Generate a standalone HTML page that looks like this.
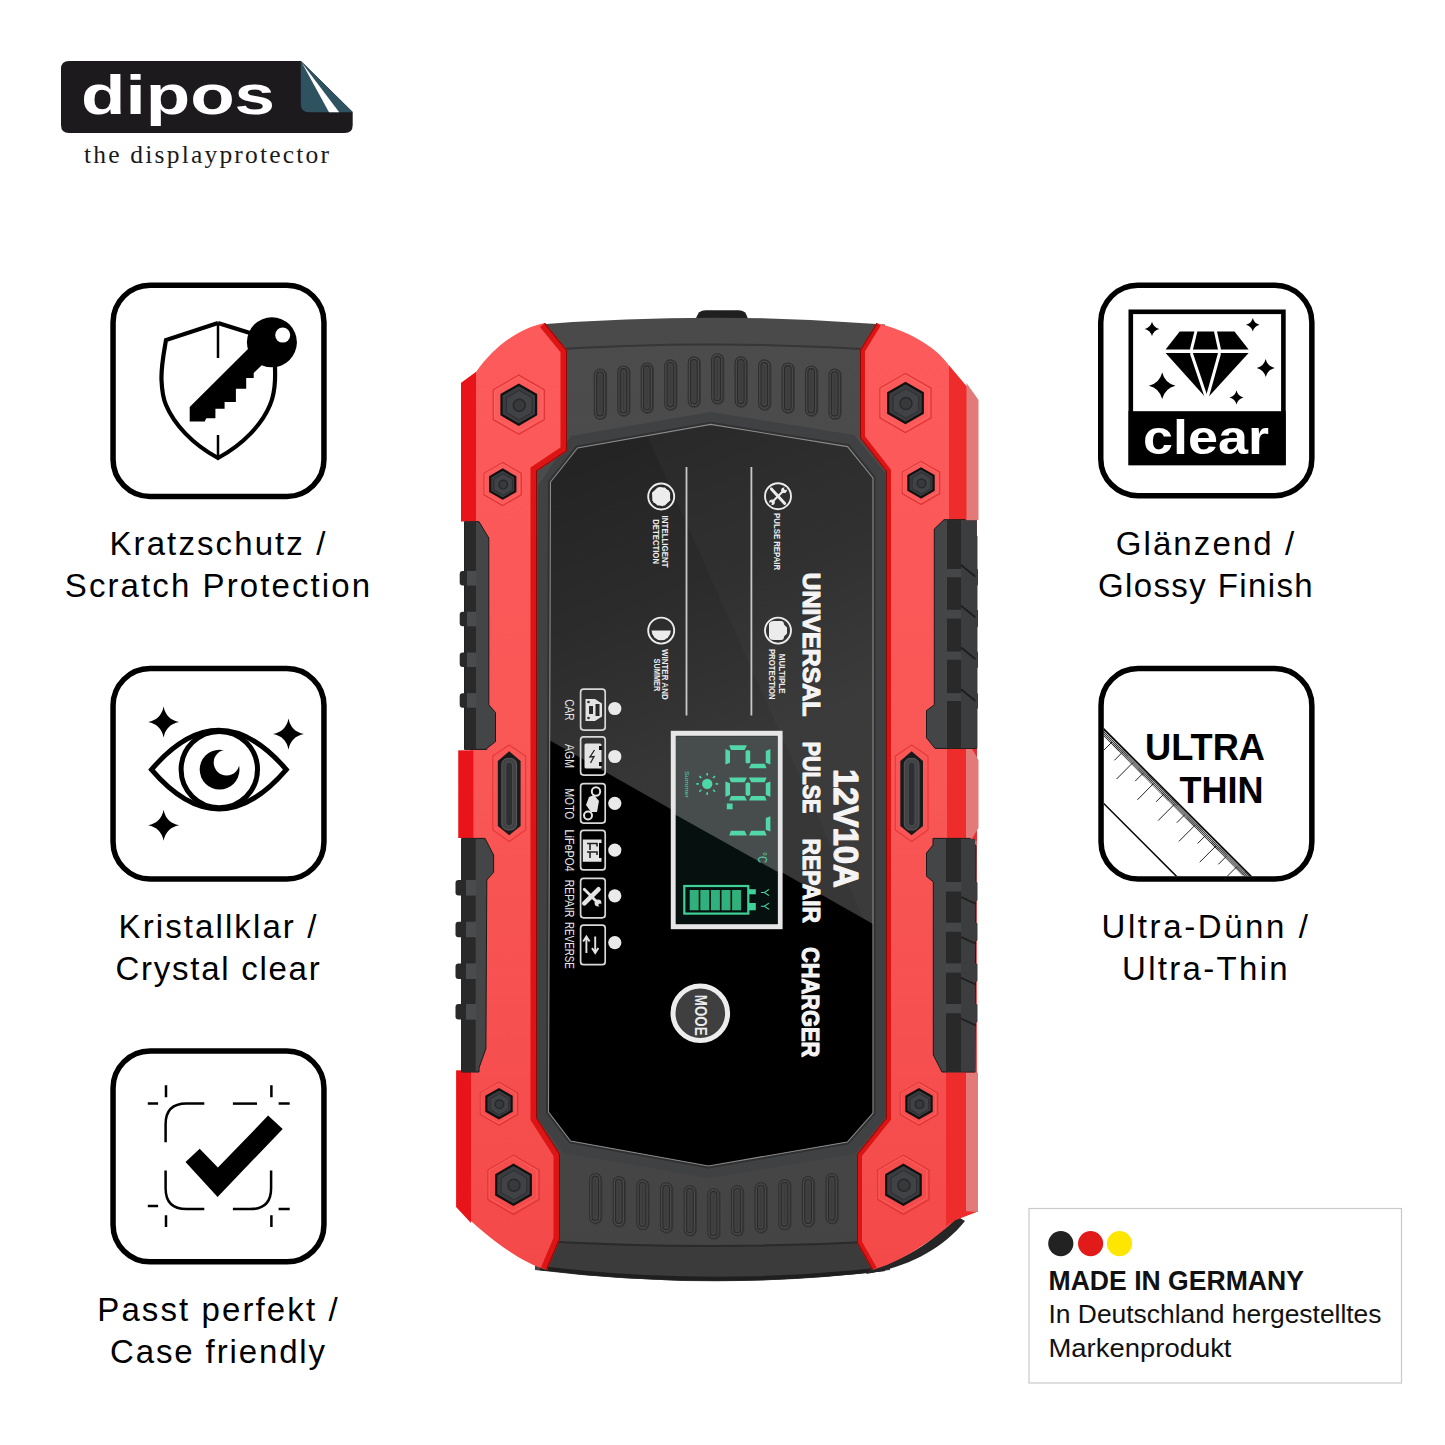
<!DOCTYPE html>
<html>
<head>
<meta charset="utf-8">
<style>
html,body{margin:0;padding:0;background:#fff;}
body{width:1445px;height:1445px;position:relative;overflow:hidden;font-family:"Liberation Sans",sans-serif;}
.lbl{position:absolute;font-family:"Liberation Sans",sans-serif;font-size:33px;letter-spacing:2.1px;color:#000;white-space:nowrap;text-align:center;line-height:42.5px;width:400px;}
svg{position:absolute;left:0;top:0;}
</style>
</head>
<body>
<svg width="1445" height="1445" viewBox="0 0 1445 1445">
<!-- LOGO -->
<g id="logo">
  <path d="M69,61 L301,61 L352.7,112 L352.7,125 Q352.7,133 344.7,133 L69,133 Q61,133 61,125 L61,69 Q61,61 69,61 Z" fill="#1c1a1d"/>
  <path d="M300.8,61 L352.7,112.2 L309,112.2 Q300.8,112.2 300.8,104 Z" fill="#2f5260"/>
  <path d="M302,63 L339.2,112.2 L329,112.2 Z" fill="#ffffff"/>
  <text x="0" y="0" transform="translate(81,113.5) scale(1.30,1)" font-family="Liberation Sans" font-weight="bold" font-size="56" fill="#fff" letter-spacing="0">dipos</text>
  <text x="84" y="163" font-family="Liberation Serif" font-size="25.5" fill="#1a1a1a" letter-spacing="2.2">the displayprotector</text>
</g>

<!-- ICON BOXES -->
<g fill="none" stroke="#000" stroke-width="5.5">
  <rect x="113.05" y="285.25" width="210.9" height="211.2" rx="37"/>
  <rect x="113.05" y="668.55" width="210.9" height="210.4" rx="37"/>
  <rect x="113.05" y="1051.05" width="210.9" height="210.8" rx="37"/>
  <rect x="1100.75" y="285.25" width="211.1" height="210.4" rx="37"/>
  <rect x="1101.05" y="668.55" width="210.8" height="210.4" rx="37"/>
</g>
<!-- icon1 shield key -->
<g>
  <path d="M218,323 L166,340 C164,352 161,366 161.5,380 C162,392 163,398 166,405 C174,424 192,444 218,458 C244,444 262,424 270,405 C273,398 274.5,392 275,380 C275.5,366 274,352 272.5,345" fill="none" stroke="#000" stroke-width="4.2" stroke-linejoin="miter"/>
  <path d="M218,323 L250,333" fill="none" stroke="#000" stroke-width="4.2"/>
  <line x1="218" y1="323" x2="218" y2="358" stroke="#000" stroke-width="2.5"/>
  <line x1="218" y1="435" x2="218" y2="458" stroke="#000" stroke-width="2.5"/>
  <circle cx="271.9" cy="342.3" r="25" fill="#000"/>
  <path d="M249,348 L189.7,407 L189.7,421.5 L204.7,421.5 L206.3,418.3 L215.4,418.3 L215.4,408.7 L224.6,408.7 L224.6,402 L235.9,402 L235.9,388.8 L246.2,388.8 L246.2,378 L253.7,378 L253.7,373 L262,365 Z" fill="#000"/>
  <circle cx="282.7" cy="335.1" r="7.5" fill="#fff"/>
</g>
<!-- icon2 eye -->
<g>
  <path d="M151.5,769.6 Q218.8,691 286.3,769.6 Q218.8,848.2 151.5,769.6 Z" fill="none" stroke="#000" stroke-width="5" stroke-linejoin="miter"/>
  <circle cx="219.3" cy="769.6" r="38.2" fill="none" stroke="#000" stroke-width="5"/>
  <circle cx="219.6" cy="769.6" r="19.9" fill="#000"/>
  <circle cx="226.6" cy="762.6" r="12.9" fill="#fff"/>
  <path id="spk" d="M0,-15.5 Q2.5,-2.5 15.5,0 Q2.5,2.5 0,15.5 Q-2.5,2.5 -15.5,0 Q-2.5,-2.5 0,-15.5 Z" fill="#000" transform="translate(163.6,721.9)"/>
  <path d="M0,-15.5 Q2.5,-2.5 15.5,0 Q2.5,2.5 0,15.5 Q-2.5,2.5 -15.5,0 Q-2.5,-2.5 0,-15.5 Z" fill="#000" transform="translate(288.5,733.9)"/>
  <path d="M0,-15.5 Q2.5,-2.5 15.5,0 Q2.5,2.5 0,15.5 Q-2.5,2.5 -15.5,0 Q-2.5,-2.5 0,-15.5 Z" fill="#000" transform="translate(163.6,825.3)"/>
</g>
<!-- icon3 check -->
<g>
  <path d="M199.7,1148.8 L185.5,1162.1 L217.6,1197 L282.7,1128.9 L268.1,1115.6 L217.9,1167.6 Z" fill="#000"/>
  <g fill="none" stroke="#000" stroke-width="2.5">
    <path d="M204.3,1103.6 L186.4,1103.6 Q165.6,1103.6 165.6,1124.4 L165.6,1142.2"/>
    <path d="M232.9,1103.6 L257,1103.6"/>
    <path d="M165.6,1170.4 L165.6,1188.3 Q165.6,1209.1 186.4,1209.1 L204.3,1209.1"/>
    <path d="M232.9,1209.1 L250.3,1209.1 Q271.1,1209.1 271.1,1188.3 L271.1,1170.4"/>
    <path d="M166,1085.2 L166,1097.3 M147.8,1103.6 L158.1,1103.6 M271.4,1085.2 L271.4,1097.3 M278.6,1103.6 L289.7,1103.6"/>
    <path d="M147.8,1206.1 L158.1,1206.1 M166,1215.2 L166,1226.9 M278.6,1208.9 L289.7,1208.9 M271.4,1215.2 L271.4,1226.9"/>
  </g>
</g>
<!-- icon4 diamond clear -->
<g>
  <rect x="1130.8" y="311.8" width="152.6" height="151.1" fill="none" stroke="#000" stroke-width="4.6"/>
  <rect x="1128.5" y="411.2" width="157.2" height="54" fill="#000"/>
  <path d="M1179.7,331.5 L1234.5,331.5 L1248.6,349.4 L1165.6,349.4 Z" fill="#000"/>
  <path d="M1165.6,353 L1248.6,353 L1206.8,398.7 Z" fill="#000"/>
  <g stroke="#fff" stroke-width="3">
    <line x1="1196" y1="331" x2="1191.3" y2="350"/>
    <line x1="1215.4" y1="331" x2="1219.6" y2="350"/>
    <line x1="1191.3" y1="353" x2="1206.8" y2="399"/>
    <line x1="1219.6" y1="353" x2="1206.8" y2="399"/>
  </g>
  <g fill="#000">
    <path d="M0,-1 Q0.2,-0.2 1,0 Q0.2,0.2 0,1 Q-0.2,0.2 -1,0 Q-0.2,-0.2 0,-1 Z" transform="translate(1152,329) scale(7.3)"/>
    <path d="M0,-1 Q0.2,-0.2 1,0 Q0.2,0.2 0,1 Q-0.2,0.2 -1,0 Q-0.2,-0.2 0,-1 Z" transform="translate(1252.8,324.8) scale(6.8)"/>
    <path d="M0,-1 Q0.2,-0.2 1,0 Q0.2,0.2 0,1 Q-0.2,0.2 -1,0 Q-0.2,-0.2 0,-1 Z" transform="translate(1265.7,368) scale(9)"/>
    <path d="M0,-1 Q0.2,-0.2 1,0 Q0.2,0.2 0,1 Q-0.2,0.2 -1,0 Q-0.2,-0.2 0,-1 Z" transform="translate(1162.2,385.8) scale(13.3)"/>
    <path d="M0,-1 Q0.2,-0.2 1,0 Q0.2,0.2 0,1 Q-0.2,0.2 -1,0 Q-0.2,-0.2 0,-1 Z" transform="translate(1236.5,397.4) scale(7)"/>
  </g>
  <text x="1143" y="453.5" font-family="Liberation Sans" font-weight="bold" font-size="49" fill="#fff" textLength="126" lengthAdjust="spacingAndGlyphs">clear</text>
</g>
<!-- icon5 ultra thin -->
<g>
  <defs><clipPath id="c5"><rect x="1103.8" y="671.3" width="205.3" height="204.9" rx="34"/></clipPath></defs>
  <g clip-path="url(#c5)">
<line x1="1080" y1="705.1" x2="1260" y2="885.1" stroke="#000" stroke-width="1.5"/>
<line x1="1080" y1="779.8" x2="1200" y2="899.8" stroke="#000" stroke-width="1.5"/>
<line x1="1077.95" y1="707.15" x2="1257.95" y2="887.15" stroke="#111" stroke-width="5.2" stroke-dasharray="0.8 0.6"/>
<line x1="1080.9" y1="710.8" x2="1072.9" y2="718.8" stroke="#222" stroke-width="1"/>
<line x1="1091.2" y1="721.2" x2="1075.0" y2="737.4" stroke="#222" stroke-width="1"/>
<line x1="1101.6" y1="731.6" x2="1093.7" y2="739.5" stroke="#222" stroke-width="1"/>
<line x1="1112.0" y1="742.0" x2="1095.8" y2="758.2" stroke="#222" stroke-width="1"/>
<line x1="1122.4" y1="752.3" x2="1114.4" y2="760.3" stroke="#222" stroke-width="1"/>
<line x1="1132.8" y1="762.7" x2="1116.6" y2="779.0" stroke="#222" stroke-width="1"/>
<line x1="1143.2" y1="773.1" x2="1135.2" y2="781.1" stroke="#222" stroke-width="1"/>
<line x1="1153.6" y1="783.5" x2="1137.4" y2="799.8" stroke="#222" stroke-width="1"/>
<line x1="1164.0" y1="793.9" x2="1156.0" y2="801.9" stroke="#222" stroke-width="1"/>
<line x1="1174.4" y1="804.3" x2="1158.1" y2="820.6" stroke="#222" stroke-width="1"/>
<line x1="1184.8" y1="814.7" x2="1176.8" y2="822.7" stroke="#222" stroke-width="1"/>
<line x1="1195.2" y1="825.1" x2="1178.9" y2="841.4" stroke="#222" stroke-width="1"/>
<line x1="1205.6" y1="835.5" x2="1197.6" y2="843.5" stroke="#222" stroke-width="1"/>
<line x1="1216.0" y1="845.9" x2="1199.7" y2="862.2" stroke="#222" stroke-width="1"/>
<line x1="1226.4" y1="856.3" x2="1218.4" y2="864.3" stroke="#222" stroke-width="1"/>
<line x1="1236.8" y1="866.7" x2="1220.5" y2="883.0" stroke="#222" stroke-width="1"/>
<line x1="1247.2" y1="877.1" x2="1239.2" y2="885.1" stroke="#222" stroke-width="1"/>
<line x1="1257.6" y1="887.5" x2="1241.3" y2="903.7" stroke="#222" stroke-width="1"/>
  </g>
  <text x="1145" y="759.7" font-family="Liberation Sans" font-weight="bold" font-size="36" fill="#000" textLength="120" lengthAdjust="spacingAndGlyphs">ULTRA</text>
  <text x="1179.5" y="802.8" font-family="Liberation Sans" font-weight="bold" font-size="36" fill="#000" textLength="84" lengthAdjust="spacingAndGlyphs">THIN</text>
</g>
<!-- Made in Germany -->
<g>
  <rect x="1029" y="1208.5" width="372.5" height="174.5" fill="#fff" stroke="#c8c8c8" stroke-width="1.2"/>
  <circle cx="1060.8" cy="1243.6" r="12.6" fill="#222"/>
  <circle cx="1090.6" cy="1243.6" r="12.6" fill="#e31a1a"/>
  <circle cx="1119.5" cy="1243.6" r="12.6" fill="#ffe600"/>
  <text x="1048.5" y="1289.5" font-family="Liberation Sans" font-weight="bold" font-size="27" fill="#111" textLength="255.5" lengthAdjust="spacingAndGlyphs">MADE IN GERMANY</text>
  <text x="1048.5" y="1323.2" font-family="Liberation Sans" font-size="26.3" fill="#111" textLength="333" lengthAdjust="spacingAndGlyphs">In Deutschland hergestelltes</text>
  <text x="1048.5" y="1357" font-family="Liberation Sans" font-size="26.3" fill="#111" textLength="183" lengthAdjust="spacingAndGlyphs">Markenprodukt</text>
</g>
<g id="charger">
<defs>
  <linearGradient id="bodyg" x1="0" y1="0" x2="0" y2="1">
    <stop offset="0" stop-color="#4c4c4d"/><stop offset="1" stop-color="#444445"/>
  </linearGradient>
  <linearGradient id="scrg" gradientUnits="userSpaceOnUse" x1="640" y1="440" x2="760" y2="740">
    <stop offset="0" stop-color="#242424"/><stop offset="0.5" stop-color="#2c2c2c"/><stop offset="1" stop-color="#373737"/>
  </linearGradient>
  <clipPath id="scr"><polygon points="550.5,482 577.5,448 710.7,424.4 847.6,446.6 873,478 873,1113 847.4,1142 708.5,1166 570.6,1141 548.5,1112"/></clipPath>
  <clipPath id="lcdc"><rect x="675.9" y="736.6" width="101.7" height="187.4"/></clipPath>
</defs>
<path d="M694,322 L698,314 Q700,310.3 706,310.3 L738,310.3 Q744,310.3 746,314 L749.4,322 Z" fill="#1f1f20"/>
<path d="M535,328 Q712,310 890,328 L890,1270 Q712,1292 535,1270 Z" fill="url(#bodyg)"/>
<path d="M540,324.4 Q712,311 885,324.4 L885,350.3 Q712,338.5 540,350.3 Z" fill="#4a4a4b"/>
<path d="M540,350.3 Q712,338.5 885,350.3" fill="none" stroke="#363637" stroke-width="2"/>
<path d="M540,1241 Q712,1251 885,1241 L885,1271 Q712,1292 540,1270 Z" fill="#3b3b3c"/>
<path d="M540,1241 Q712,1251 885,1241" fill="none" stroke="#2a2a2a" stroke-width="2"/>
<path d="M540,1268 Q712,1289 885,1269" fill="none" stroke="#1f1f1f" stroke-width="4"/>
<rect x="594.9" y="369.7" width="11.4" height="49.6" rx="5.7" fill="none" stroke="#333334" stroke-width="1.6" opacity="0.7"/>
<rect x="594.3" y="369.1" width="11.4" height="49.6" rx="5.7" fill="#4a4a4b" stroke="#303031" stroke-width="1.1"/>
<rect x="596.7" y="371.7" width="6.6" height="44.4" rx="3.3" fill="#414142" stroke="#2a2a2b" stroke-width="1.1"/>
<line x1="600.0" y1="375.1" x2="600.0" y2="412.7" stroke="#3a3a3b" stroke-width="1"/>
<rect x="618.4" y="366.6" width="11.4" height="49.6" rx="5.7" fill="none" stroke="#333334" stroke-width="1.6" opacity="0.7"/>
<rect x="617.8" y="366.0" width="11.4" height="49.6" rx="5.7" fill="#4a4a4b" stroke="#303031" stroke-width="1.1"/>
<rect x="620.2" y="368.6" width="6.6" height="44.4" rx="3.3" fill="#414142" stroke="#2a2a2b" stroke-width="1.1"/>
<line x1="623.5" y1="372.0" x2="623.5" y2="409.6" stroke="#3a3a3b" stroke-width="1"/>
<rect x="641.8" y="363.6" width="11.4" height="49.6" rx="5.7" fill="none" stroke="#333334" stroke-width="1.6" opacity="0.7"/>
<rect x="641.2" y="363.0" width="11.4" height="49.6" rx="5.7" fill="#4a4a4b" stroke="#303031" stroke-width="1.1"/>
<rect x="643.6" y="365.6" width="6.6" height="44.4" rx="3.3" fill="#414142" stroke="#2a2a2b" stroke-width="1.1"/>
<line x1="646.9" y1="369.0" x2="646.9" y2="406.6" stroke="#3a3a3b" stroke-width="1"/>
<rect x="665.3" y="360.5" width="11.4" height="49.6" rx="5.7" fill="none" stroke="#333334" stroke-width="1.6" opacity="0.7"/>
<rect x="664.7" y="359.9" width="11.4" height="49.6" rx="5.7" fill="#4a4a4b" stroke="#303031" stroke-width="1.1"/>
<rect x="667.1" y="362.5" width="6.6" height="44.4" rx="3.3" fill="#414142" stroke="#2a2a2b" stroke-width="1.1"/>
<line x1="670.4" y1="365.9" x2="670.4" y2="403.5" stroke="#3a3a3b" stroke-width="1"/>
<rect x="688.8" y="357.5" width="11.4" height="49.6" rx="5.7" fill="none" stroke="#333334" stroke-width="1.6" opacity="0.7"/>
<rect x="688.2" y="356.9" width="11.4" height="49.6" rx="5.7" fill="#4a4a4b" stroke="#303031" stroke-width="1.1"/>
<rect x="690.6" y="359.5" width="6.6" height="44.4" rx="3.3" fill="#414142" stroke="#2a2a2b" stroke-width="1.1"/>
<line x1="693.9" y1="362.9" x2="693.9" y2="400.5" stroke="#3a3a3b" stroke-width="1"/>
<rect x="712.2" y="354.4" width="11.4" height="49.6" rx="5.7" fill="none" stroke="#333334" stroke-width="1.6" opacity="0.7"/>
<rect x="711.6" y="353.8" width="11.4" height="49.6" rx="5.7" fill="#4a4a4b" stroke="#303031" stroke-width="1.1"/>
<rect x="714.0" y="356.4" width="6.6" height="44.4" rx="3.3" fill="#414142" stroke="#2a2a2b" stroke-width="1.1"/>
<line x1="717.4" y1="359.8" x2="717.4" y2="397.4" stroke="#3a3a3b" stroke-width="1"/>
<rect x="735.7" y="357.5" width="11.4" height="49.6" rx="5.7" fill="none" stroke="#333334" stroke-width="1.6" opacity="0.7"/>
<rect x="735.1" y="356.9" width="11.4" height="49.6" rx="5.7" fill="#4a4a4b" stroke="#303031" stroke-width="1.1"/>
<rect x="737.5" y="359.5" width="6.6" height="44.4" rx="3.3" fill="#414142" stroke="#2a2a2b" stroke-width="1.1"/>
<line x1="740.8" y1="362.9" x2="740.8" y2="400.5" stroke="#3a3a3b" stroke-width="1"/>
<rect x="759.2" y="360.5" width="11.4" height="49.6" rx="5.7" fill="none" stroke="#333334" stroke-width="1.6" opacity="0.7"/>
<rect x="758.6" y="359.9" width="11.4" height="49.6" rx="5.7" fill="#4a4a4b" stroke="#303031" stroke-width="1.1"/>
<rect x="761.0" y="362.5" width="6.6" height="44.4" rx="3.3" fill="#414142" stroke="#2a2a2b" stroke-width="1.1"/>
<line x1="764.3" y1="365.9" x2="764.3" y2="403.5" stroke="#3a3a3b" stroke-width="1"/>
<rect x="782.7" y="363.6" width="11.4" height="49.6" rx="5.7" fill="none" stroke="#333334" stroke-width="1.6" opacity="0.7"/>
<rect x="782.1" y="363.0" width="11.4" height="49.6" rx="5.7" fill="#4a4a4b" stroke="#303031" stroke-width="1.1"/>
<rect x="784.5" y="365.6" width="6.6" height="44.4" rx="3.3" fill="#414142" stroke="#2a2a2b" stroke-width="1.1"/>
<line x1="787.8" y1="369.0" x2="787.8" y2="406.6" stroke="#3a3a3b" stroke-width="1"/>
<rect x="806.1" y="366.6" width="11.4" height="49.6" rx="5.7" fill="none" stroke="#333334" stroke-width="1.6" opacity="0.7"/>
<rect x="805.5" y="366.0" width="11.4" height="49.6" rx="5.7" fill="#4a4a4b" stroke="#303031" stroke-width="1.1"/>
<rect x="807.9" y="368.6" width="6.6" height="44.4" rx="3.3" fill="#414142" stroke="#2a2a2b" stroke-width="1.1"/>
<line x1="811.2" y1="372.0" x2="811.2" y2="409.6" stroke="#3a3a3b" stroke-width="1"/>
<rect x="829.6" y="369.7" width="11.4" height="49.6" rx="5.7" fill="none" stroke="#333334" stroke-width="1.6" opacity="0.7"/>
<rect x="829.0" y="369.1" width="11.4" height="49.6" rx="5.7" fill="#4a4a4b" stroke="#303031" stroke-width="1.1"/>
<rect x="831.4" y="371.7" width="6.6" height="44.4" rx="3.3" fill="#414142" stroke="#2a2a2b" stroke-width="1.1"/>
<line x1="834.7" y1="375.1" x2="834.7" y2="412.7" stroke="#3a3a3b" stroke-width="1"/>
<rect x="590.2" y="1174.1" width="11.4" height="49.6" rx="5.7" fill="none" stroke="#333334" stroke-width="1.6" opacity="0.7"/>
<rect x="589.6" y="1173.5" width="11.4" height="49.6" rx="5.7" fill="#4a4a4b" stroke="#303031" stroke-width="1.1"/>
<rect x="592.0" y="1176.1" width="6.6" height="44.4" rx="3.3" fill="#414142" stroke="#2a2a2b" stroke-width="1.1"/>
<line x1="595.3" y1="1179.5" x2="595.3" y2="1217.1" stroke="#3a3a3b" stroke-width="1"/>
<rect x="613.8" y="1177.2" width="11.4" height="49.6" rx="5.7" fill="none" stroke="#333334" stroke-width="1.6" opacity="0.7"/>
<rect x="613.2" y="1176.6" width="11.4" height="49.6" rx="5.7" fill="#4a4a4b" stroke="#303031" stroke-width="1.1"/>
<rect x="615.6" y="1179.2" width="6.6" height="44.4" rx="3.3" fill="#414142" stroke="#2a2a2b" stroke-width="1.1"/>
<line x1="618.9" y1="1182.6" x2="618.9" y2="1220.2" stroke="#3a3a3b" stroke-width="1"/>
<rect x="637.5" y="1180.2" width="11.4" height="49.6" rx="5.7" fill="none" stroke="#333334" stroke-width="1.6" opacity="0.7"/>
<rect x="636.9" y="1179.6" width="11.4" height="49.6" rx="5.7" fill="#4a4a4b" stroke="#303031" stroke-width="1.1"/>
<rect x="639.3" y="1182.2" width="6.6" height="44.4" rx="3.3" fill="#414142" stroke="#2a2a2b" stroke-width="1.1"/>
<line x1="642.6" y1="1185.6" x2="642.6" y2="1223.2" stroke="#3a3a3b" stroke-width="1"/>
<rect x="661.1" y="1183.3" width="11.4" height="49.6" rx="5.7" fill="none" stroke="#333334" stroke-width="1.6" opacity="0.7"/>
<rect x="660.5" y="1182.7" width="11.4" height="49.6" rx="5.7" fill="#4a4a4b" stroke="#303031" stroke-width="1.1"/>
<rect x="662.9" y="1185.3" width="6.6" height="44.4" rx="3.3" fill="#414142" stroke="#2a2a2b" stroke-width="1.1"/>
<line x1="666.2" y1="1188.7" x2="666.2" y2="1226.3" stroke="#3a3a3b" stroke-width="1"/>
<rect x="684.8" y="1186.3" width="11.4" height="49.6" rx="5.7" fill="none" stroke="#333334" stroke-width="1.6" opacity="0.7"/>
<rect x="684.2" y="1185.7" width="11.4" height="49.6" rx="5.7" fill="#4a4a4b" stroke="#303031" stroke-width="1.1"/>
<rect x="686.6" y="1188.3" width="6.6" height="44.4" rx="3.3" fill="#414142" stroke="#2a2a2b" stroke-width="1.1"/>
<line x1="689.9" y1="1191.7" x2="689.9" y2="1229.3" stroke="#3a3a3b" stroke-width="1"/>
<rect x="708.4" y="1189.4" width="11.4" height="49.6" rx="5.7" fill="none" stroke="#333334" stroke-width="1.6" opacity="0.7"/>
<rect x="707.8" y="1188.8" width="11.4" height="49.6" rx="5.7" fill="#4a4a4b" stroke="#303031" stroke-width="1.1"/>
<rect x="710.2" y="1191.4" width="6.6" height="44.4" rx="3.3" fill="#414142" stroke="#2a2a2b" stroke-width="1.1"/>
<line x1="713.5" y1="1194.8" x2="713.5" y2="1232.4" stroke="#3a3a3b" stroke-width="1"/>
<rect x="732.1" y="1186.3" width="11.4" height="49.6" rx="5.7" fill="none" stroke="#333334" stroke-width="1.6" opacity="0.7"/>
<rect x="731.5" y="1185.7" width="11.4" height="49.6" rx="5.7" fill="#4a4a4b" stroke="#303031" stroke-width="1.1"/>
<rect x="733.9" y="1188.3" width="6.6" height="44.4" rx="3.3" fill="#414142" stroke="#2a2a2b" stroke-width="1.1"/>
<line x1="737.2" y1="1191.7" x2="737.2" y2="1229.3" stroke="#3a3a3b" stroke-width="1"/>
<rect x="755.7" y="1183.3" width="11.4" height="49.6" rx="5.7" fill="none" stroke="#333334" stroke-width="1.6" opacity="0.7"/>
<rect x="755.1" y="1182.7" width="11.4" height="49.6" rx="5.7" fill="#4a4a4b" stroke="#303031" stroke-width="1.1"/>
<rect x="757.5" y="1185.3" width="6.6" height="44.4" rx="3.3" fill="#414142" stroke="#2a2a2b" stroke-width="1.1"/>
<line x1="760.8" y1="1188.7" x2="760.8" y2="1226.3" stroke="#3a3a3b" stroke-width="1"/>
<rect x="779.4" y="1180.2" width="11.4" height="49.6" rx="5.7" fill="none" stroke="#333334" stroke-width="1.6" opacity="0.7"/>
<rect x="778.8" y="1179.6" width="11.4" height="49.6" rx="5.7" fill="#4a4a4b" stroke="#303031" stroke-width="1.1"/>
<rect x="781.2" y="1182.2" width="6.6" height="44.4" rx="3.3" fill="#414142" stroke="#2a2a2b" stroke-width="1.1"/>
<line x1="784.5" y1="1185.6" x2="784.5" y2="1223.2" stroke="#3a3a3b" stroke-width="1"/>
<rect x="803.0" y="1177.2" width="11.4" height="49.6" rx="5.7" fill="none" stroke="#333334" stroke-width="1.6" opacity="0.7"/>
<rect x="802.4" y="1176.6" width="11.4" height="49.6" rx="5.7" fill="#4a4a4b" stroke="#303031" stroke-width="1.1"/>
<rect x="804.8" y="1179.2" width="6.6" height="44.4" rx="3.3" fill="#414142" stroke="#2a2a2b" stroke-width="1.1"/>
<line x1="808.1" y1="1182.6" x2="808.1" y2="1220.2" stroke="#3a3a3b" stroke-width="1"/>
<rect x="826.7" y="1174.1" width="11.4" height="49.6" rx="5.7" fill="none" stroke="#333334" stroke-width="1.6" opacity="0.7"/>
<rect x="826.1" y="1173.5" width="11.4" height="49.6" rx="5.7" fill="#4a4a4b" stroke="#303031" stroke-width="1.1"/>
<rect x="828.5" y="1176.1" width="6.6" height="44.4" rx="3.3" fill="#414142" stroke="#2a2a2b" stroke-width="1.1"/>
<line x1="831.8" y1="1179.5" x2="831.8" y2="1217.1" stroke="#3a3a3b" stroke-width="1"/>
<polygon points="538,486 571,436 710.7,412 854,435 886,474 886,1117 854,1154 708.5,1178 564,1153 536,1116" fill="#404143"/>
<polygon points="550.5,482 577.5,448 710.7,424.4 847.6,446.6 873,478 873,1113 847.4,1142 708.5,1166 570.6,1141 548.5,1112" fill="#242424" stroke="#313131" stroke-width="5"/>
<g clip-path="url(#scr)">
<rect x="540" y="410" width="345" height="770" fill="url(#scrg)"/>
<polygon points="640,420 900,420 900,1000" fill="#ffffff" opacity="0.025"/>
<polygon points="540,734.8 890,933.6 890,1180 540,1180" fill="#000"/>
</g>
<polygon points="550.5,482 577.5,448 710.7,424.4 847.6,446.6 873,478 873,1113 847.4,1142 708.5,1166 570.6,1141 548.5,1112" fill="none" stroke="#8a8a8a" stroke-width="1.1"/>
</g><path d="M866,1274 C905,1268 942,1250 965,1221 L955,1215 C935,1243 900,1262 870,1268 Z" fill="#262627"/>
<defs><linearGradient id="redg" gradientUnits="userSpaceOnUse" x1="0" y1="320" x2="0" y2="1275"><stop offset="0" stop-color="#fd5b5b"/><stop offset="0.5" stop-color="#f95656"/><stop offset="1" stop-color="#f44949"/></linearGradient></defs>
<defs><clipPath id="redL"><path d="M545,323 L567,350 L567,451 L537,471 L537,1118 L560,1154 L560,1239 L547,1270 C520,1262 490,1240 456,1207 L456,1070.6 L470,1070.6 L470,838 L458.3,838 L458.3,750.6 L470,750.6 L470,521.7 L461,521.7 L461,383 L476,372 C495,345 520,328 545,323 Z"/></clipPath></defs>
<path d="M545,323 L567,350 L567,451 L537,471 L537,1118 L560,1154 L560,1239 L547,1270 C520,1262 490,1240 456,1207 L456,1070.6 L470,1070.6 L470,838 L458.3,838 L458.3,750.6 L470,750.6 L470,521.7 L461,521.7 L461,383 L476,372 C495,345 520,328 545,323 Z" fill="url(#redg)"/>
<path d="M545,323 L567,350 L567,451 L537,471 L537,1118 L560,1154 L560,1239 L547,1270" fill="none" stroke="#dc1414" stroke-width="13" clip-path="url(#redL)"/>
<path d="M545,323 L567,350 L567,451 L537,471 L537,1118 L560,1154 L560,1239 L547,1270" fill="none" stroke="#8a0808" stroke-width="2" clip-path="url(#redL)"/>
<path d="M476,372 L461,383 L461,521 L476,521 Z" fill="#e8141a"/>
<path d="M458.5,750.6 L473.4,750.6 L473.4,838 L458.5,838 Z" fill="#e8141a"/>
<path d="M456.4,1070.6 L471,1070.6 L471,1223 C466,1218 461,1212 456.4,1207 Z" fill="#e8141a"/>
<defs><clipPath id="redR"><path d="M876.5,323 L860,350 L860,438 L886,471.5 L886,1118 L857,1154 L857,1243 L872.3,1270 C900,1262 930,1243 955.3,1220 L977,1211.7 L977,398.8 L949,365.6 C935,345 905,330 876.5,323 Z"/></clipPath></defs>
<path d="M876.5,323 L860,350 L860,438 L886,471.5 L886,1118 L857,1154 L857,1243 L872.3,1270 C900,1262 930,1243 955.3,1220 L977,1211.7 L977,398.8 L949,365.6 C935,345 905,330 876.5,323 Z" fill="url(#redg)"/>
<path d="M876.5,323 L860,350 L860,438 L886,471.5 L886,1118 L857,1154 L857,1243 L872.3,1270" fill="none" stroke="#dc1414" stroke-width="10" clip-path="url(#redR)"/>
<path d="M876.5,323 L860,350 L860,438 L886,471.5 L886,1118 L857,1154 L857,1243 L872.3,1270" fill="none" stroke="#8a0808" stroke-width="2" clip-path="url(#redR)"/>
<path d="M949,365.6 L977,398.8 L977,520 L949,520 Z" fill="#ee2c2c"/>
<path d="M947,749 L977,749 L977,841 L947,841 Z" fill="#ee2c2c"/>
<path d="M946,1072.7 L977,1072.7 L977,1211.7 L955.3,1220 L946,1226 Z" fill="#ee2c2c"/>
<path d="M966,1072.7 L978,1072.7 L978,1212 L966,1211.3 Z" fill="#e27a7a"/>
<path d="M966.5,383 L978.5,400 L978.5,520 L966.5,520 Z" fill="#e27a7a"/>
<path d="M966,749 L972,749 L978.5,760 L978.5,828 L972,838.5 L966,838.5 Z" fill="#e27a7a"/><polygon points="464.5,521.7 479,521.7 488.8,538 488.8,704.8 495.5,712.6 495.5,741.6 486.8,748.4 486.8,749.4 464.5,749.4" fill="#444546" stroke="#1a1a1a" stroke-width="1"/>
<rect x="464.5" y="522.2" width="11.5" height="226.7" fill="#29292a"/>
<rect x="459.7" y="571" width="10" height="14.6" rx="3" fill="#29292a"/>
<rect x="467" y="571" width="9.5" height="14.6" fill="#4a4b4c"/>
<rect x="459.7" y="611.8" width="10" height="14.5" rx="3" fill="#29292a"/>
<rect x="467" y="611.8" width="9.5" height="14.5" fill="#4a4b4c"/>
<rect x="459.7" y="652.5" width="10" height="14.5" rx="3" fill="#29292a"/>
<rect x="467" y="652.5" width="9.5" height="14.5" fill="#4a4b4c"/>
<rect x="459.7" y="693.2" width="10" height="14.5" rx="3" fill="#29292a"/>
<rect x="467" y="693.2" width="9.5" height="14.5" fill="#4a4b4c"/>
<polygon points="461.6,838.4 485,838.4 493.6,855 493.6,872.3 486.8,880 485.9,1048.7 479,1068 479,1072 461.6,1072" fill="#444546" stroke="#1a1a1a" stroke-width="1"/>
<rect x="461.6" y="838.9" width="14" height="232.6" fill="#29292a"/>
<rect x="455.5" y="880" width="12" height="15.6" rx="3" fill="#29292a"/>
<rect x="466" y="880" width="10" height="15.6" fill="#4a4b4c"/>
<rect x="455.5" y="921.7" width="12" height="15.5" rx="3" fill="#29292a"/>
<rect x="466" y="921.7" width="10" height="15.5" fill="#4a4b4c"/>
<rect x="455.5" y="963.4" width="12" height="15.6" rx="3" fill="#29292a"/>
<rect x="466" y="963.4" width="10" height="15.6" fill="#4a4b4c"/>
<rect x="455.5" y="1004" width="12" height="15.6" rx="3" fill="#29292a"/>
<rect x="466" y="1004" width="10" height="15.6" fill="#4a4b4c"/>
<polygon points="944,519.7 965.3,519.7 976.9,536.2 976.9,748.4 935,748.4 926.5,737.8 926.5,710.6 934.3,704.8 934.3,529" fill="#444546" stroke="#1a1a1a" stroke-width="1"/>
<rect x="947" y="520.2" width="14" height="227.7" fill="#29292a"/>
<rect x="961" y="520.2" width="15.9" height="227.7" fill="#3c3d3e"/>
<rect x="947" y="569" width="14" height="8.3" fill="#454647"/>
<line x1="961" y1="565.0" x2="976" y2="577.0" stroke="#1e1e1e" stroke-width="1.8"/>
<rect x="975.5" y="569.0" width="2.5" height="16.6" rx="1" fill="#3c3d3e"/>
<rect x="947" y="609.8" width="14" height="8.8" fill="#454647"/>
<line x1="961" y1="605.8" x2="976" y2="617.8" stroke="#1e1e1e" stroke-width="1.8"/>
<rect x="975.5" y="609.8" width="2.5" height="17.5" rx="1" fill="#3c3d3e"/>
<rect x="947" y="651.5" width="14" height="8.2" fill="#454647"/>
<line x1="961" y1="647.5" x2="976" y2="659.5" stroke="#1e1e1e" stroke-width="1.8"/>
<rect x="975.5" y="651.5" width="2.5" height="16.5" rx="1" fill="#3c3d3e"/>
<rect x="947" y="693.2" width="14" height="7.8" fill="#454647"/>
<line x1="961" y1="689.2" x2="976" y2="701.2" stroke="#1e1e1e" stroke-width="1.8"/>
<rect x="975.5" y="693.2" width="2.5" height="15.5" rx="1" fill="#3c3d3e"/>
<polygon points="933,838.4 970,838.4 976,846 975,1072 942,1072 933.3,1055 933.3,882 926.5,876.2 926.5,853 933,845" fill="#444546" stroke="#1a1a1a" stroke-width="1"/>
<rect x="946" y="838.9" width="15" height="232.6" fill="#29292a"/>
<rect x="961" y="838.9" width="14" height="232.6" fill="#3c3d3e"/>
<rect x="946" y="882" width="15" height="9.5" fill="#454647"/>
<line x1="961" y1="897.0" x2="976" y2="904.0" stroke="#1e1e1e" stroke-width="1.8"/>
<rect x="974.5" y="882.0" width="3" height="19.0" rx="1" fill="#3c3d3e"/>
<rect x="946" y="922.7" width="15" height="9.1" fill="#454647"/>
<line x1="961" y1="937.0" x2="976" y2="944.0" stroke="#1e1e1e" stroke-width="1.8"/>
<rect x="974.5" y="922.7" width="3" height="18.3" rx="1" fill="#3c3d3e"/>
<rect x="946" y="963.4" width="15" height="9.2" fill="#454647"/>
<line x1="961" y1="977.8" x2="976" y2="984.8" stroke="#1e1e1e" stroke-width="1.8"/>
<rect x="974.5" y="963.4" width="3" height="18.4" rx="1" fill="#3c3d3e"/>
<rect x="946" y="1004" width="15" height="9.2" fill="#454647"/>
<line x1="961" y1="1018.5" x2="976" y2="1025.5" stroke="#1e1e1e" stroke-width="1.8"/>
<rect x="974.5" y="1004.0" width="3" height="18.5" rx="1" fill="#3c3d3e"/>
<polygon points="509.2,745 525.6,756 525.6,830 509.2,841.5 492.8,830 492.8,756" fill="url(#redg)" stroke="#e63838" stroke-width="1.1"/>
<polygon points="509.2,751.2 520.6,761 520.6,826 509.2,835.3 497.8,826 497.8,761" fill="#1a1a1a"/>
<rect x="501.8" y="758.4" width="14.8" height="71.6" rx="6" fill="#414244" stroke="#5a5b5e" stroke-width="1"/>
<rect x="505.8" y="762" width="6.8" height="64" rx="3.4" fill="#2e2f31" stroke="#55575a" stroke-width="0.8"/>
<polygon points="911.6,745 928.0,756 928.0,830 911.6,841.5 895.3,830 895.3,756" fill="url(#redg)" stroke="#e63838" stroke-width="1.1"/>
<polygon points="911.6,751.2 923.0,761 923.0,826 911.6,835.3 900.3,826 900.3,761" fill="#1a1a1a"/>
<rect x="904.3" y="758.4" width="14.7" height="71.6" rx="6" fill="#414244" stroke="#5a5b5e" stroke-width="1"/>
<rect x="908.2" y="762" width="6.8" height="64" rx="3.4" fill="#2e2f31" stroke="#55575a" stroke-width="0.8"/><polygon points="518.8,434.3 493.2,419.5 493.2,389.9 518.8,375.1 544.4,389.9 544.4,419.5" fill="url(#redg)" stroke="#e03636" stroke-width="1.3"/>
<polygon points="518.3,431.8 494.4,418.0 494.4,390.4 518.3,376.6 542.2,390.4 542.2,418.0" fill="none" stroke="#ff7070" stroke-width="0.8" opacity="0.7"/>
<polygon points="518.8,424.7 501.5,414.7 501.5,394.7 518.8,384.7 536.1,394.7 536.1,414.7" fill="#3b3c3f" stroke="#111" stroke-width="2.2"/>
<polygon points="519.2,419.9 506.4,412.5 506.4,397.7 519.2,390.3 532.0,397.7 532.0,412.5" fill="#414245" stroke="#2c2d2f" stroke-width="1"/>
<circle cx="519.3" cy="405.2" r="6.0" fill="#38393b" stroke="#27282a" stroke-width="1.4"/>
<polygon points="905.5,432.6 879.9,417.8 879.9,388.2 905.5,373.4 931.1,388.2 931.1,417.8" fill="url(#redg)" stroke="#e03636" stroke-width="1.3"/>
<polygon points="905.0,430.1 881.1,416.3 881.1,388.7 905.0,374.9 928.9,388.7 928.9,416.3" fill="none" stroke="#ff7070" stroke-width="0.8" opacity="0.7"/>
<polygon points="905.5,423.0 888.2,413.0 888.2,393.0 905.5,383.0 922.8,393.0 922.8,413.0" fill="#3b3c3f" stroke="#111" stroke-width="2.2"/>
<polygon points="905.9,418.2 893.1,410.8 893.1,396.0 905.9,388.6 918.7,396.0 918.7,410.8" fill="#414245" stroke="#2c2d2f" stroke-width="1"/>
<circle cx="906.0" cy="403.5" r="6.0" fill="#38393b" stroke="#27282a" stroke-width="1.4"/>
<polygon points="513.5,1214.4 487.9,1199.6 487.9,1170.0 513.5,1155.2 539.1,1170.0 539.1,1199.6" fill="url(#redg)" stroke="#e03636" stroke-width="1.3"/>
<polygon points="513.0,1211.9 489.1,1198.1 489.1,1170.5 513.0,1156.7 536.9,1170.5 536.9,1198.1" fill="none" stroke="#ff7070" stroke-width="0.8" opacity="0.7"/>
<polygon points="513.5,1204.8 496.2,1194.8 496.2,1174.8 513.5,1164.8 530.8,1174.8 530.8,1194.8" fill="#3b3c3f" stroke="#111" stroke-width="2.2"/>
<polygon points="513.9,1200.0 501.1,1192.6 501.1,1177.8 513.9,1170.4 526.7,1177.8 526.7,1192.6" fill="#414245" stroke="#2c2d2f" stroke-width="1"/>
<circle cx="514.0" cy="1185.3" r="6.0" fill="#38393b" stroke="#27282a" stroke-width="1.4"/>
<polygon points="903.4,1214.4 877.8,1199.6 877.8,1170.0 903.4,1155.2 929.0,1170.0 929.0,1199.6" fill="url(#redg)" stroke="#e03636" stroke-width="1.3"/>
<polygon points="902.9,1211.9 879.0,1198.1 879.0,1170.5 902.9,1156.7 926.8,1170.5 926.8,1198.1" fill="none" stroke="#ff7070" stroke-width="0.8" opacity="0.7"/>
<polygon points="903.4,1204.8 886.1,1194.8 886.1,1174.8 903.4,1164.8 920.7,1174.8 920.7,1194.8" fill="#3b3c3f" stroke="#111" stroke-width="2.2"/>
<polygon points="903.8,1200.0 891.0,1192.6 891.0,1177.8 903.8,1170.4 916.6,1177.8 916.6,1192.6" fill="#414245" stroke="#2c2d2f" stroke-width="1"/>
<circle cx="903.9" cy="1185.3" r="6.0" fill="#38393b" stroke="#27282a" stroke-width="1.4"/>
<polygon points="502.7,505.6 484.1,494.8 484.1,473.4 502.7,462.6 521.3,473.4 521.3,494.8" fill="url(#redg)" stroke="#e03636" stroke-width="1.3"/>
<polygon points="502.2,503.6 484.9,493.6 484.9,473.6 502.2,463.6 519.5,473.6 519.5,493.6" fill="none" stroke="#ff7070" stroke-width="0.8" opacity="0.7"/>
<polygon points="502.7,498.6 490.1,491.4 490.1,476.9 502.7,469.6 515.3,476.9 515.3,491.4" fill="#3b3c3f" stroke="#111" stroke-width="2.2"/>
<polygon points="503.1,495.2 493.8,489.9 493.8,479.1 503.1,473.8 512.4,479.1 512.4,489.9" fill="#414245" stroke="#2c2d2f" stroke-width="1"/>
<circle cx="503.2" cy="484.6" r="4.3" fill="#38393b" stroke="#27282a" stroke-width="1.4"/>
<polygon points="921.0,504.4 902.4,493.6 902.4,472.2 921.0,461.4 939.6,472.2 939.6,493.6" fill="url(#redg)" stroke="#e03636" stroke-width="1.3"/>
<polygon points="920.5,502.4 903.2,492.4 903.2,472.4 920.5,462.4 937.8,472.4 937.8,492.4" fill="none" stroke="#ff7070" stroke-width="0.8" opacity="0.7"/>
<polygon points="921.0,497.4 908.4,490.1 908.4,475.6 921.0,468.4 933.6,475.6 933.6,490.1" fill="#3b3c3f" stroke="#111" stroke-width="2.2"/>
<polygon points="921.4,494.0 912.1,488.7 912.1,477.9 921.4,472.6 930.7,477.9 930.7,488.7" fill="#414245" stroke="#2c2d2f" stroke-width="1"/>
<circle cx="921.5" cy="483.4" r="4.3" fill="#38393b" stroke="#27282a" stroke-width="1.4"/>
<polygon points="499.0,1125.3 480.4,1114.5 480.4,1093.1 499.0,1082.3 517.6,1093.1 517.6,1114.5" fill="url(#redg)" stroke="#e03636" stroke-width="1.3"/>
<polygon points="498.5,1123.3 481.2,1113.3 481.2,1093.3 498.5,1083.3 515.8,1093.3 515.8,1113.3" fill="none" stroke="#ff7070" stroke-width="0.8" opacity="0.7"/>
<polygon points="499.0,1118.3 486.4,1111.0 486.4,1096.5 499.0,1089.3 511.6,1096.5 511.6,1111.0" fill="#3b3c3f" stroke="#111" stroke-width="2.2"/>
<polygon points="499.4,1114.9 490.1,1109.6 490.1,1098.8 499.4,1093.5 508.7,1098.8 508.7,1109.6" fill="#414245" stroke="#2c2d2f" stroke-width="1"/>
<circle cx="499.5" cy="1104.3" r="4.3" fill="#38393b" stroke="#27282a" stroke-width="1.4"/>
<polygon points="919.0,1125.3 900.4,1114.5 900.4,1093.1 919.0,1082.3 937.6,1093.1 937.6,1114.5" fill="url(#redg)" stroke="#e03636" stroke-width="1.3"/>
<polygon points="918.5,1123.3 901.2,1113.3 901.2,1093.3 918.5,1083.3 935.8,1093.3 935.8,1113.3" fill="none" stroke="#ff7070" stroke-width="0.8" opacity="0.7"/>
<polygon points="919.0,1118.3 906.4,1111.0 906.4,1096.5 919.0,1089.3 931.6,1096.5 931.6,1111.0" fill="#3b3c3f" stroke="#111" stroke-width="2.2"/>
<polygon points="919.4,1114.9 910.1,1109.6 910.1,1098.8 919.4,1093.5 928.7,1098.8 928.7,1109.6" fill="#414245" stroke="#2c2d2f" stroke-width="1"/>
<circle cx="919.5" cy="1104.3" r="4.3" fill="#38393b" stroke="#27282a" stroke-width="1.4"/><g><line x1="686.5" y1="467" x2="686.5" y2="715.5" stroke="#c8c8c8" stroke-width="1.8"/>
<line x1="751.4" y1="467" x2="751.4" y2="715.5" stroke="#c8c8c8" stroke-width="1.8"/>
<circle cx="661.2" cy="496.5" r="13" fill="none" stroke="#ececec" stroke-width="1.9"/>
<polygon points="670.3,500.3 662.5,506.2 653.4,502.5 652.1,492.7 659.9,486.8 669.0,490.5" fill="#ececec"/>
<polygon points="670.1,500.2 664.9,505.4 657.5,505.4 652.3,500.2 652.3,492.8 657.5,487.6 664.9,487.6 670.1,492.8" fill="#ececec"/>
<circle cx="778" cy="496.2" r="13" fill="none" stroke="#ececec" stroke-width="1.9"/>
<path d="M771.4,488.9 L784.7,503.5" stroke="#ececec" stroke-width="3" stroke-linecap="round"/>
<path d="M783.5,490.7 L772.5,501.7" stroke="#ececec" stroke-width="2.2"/>
<circle cx="784" cy="490.2" r="2.8" fill="#ececec"/><circle cx="772" cy="502.2" r="2.8" fill="#ececec"/>
<circle cx="785.5" cy="488.7" r="1.4" fill="#2d2d2d"/><circle cx="770.5" cy="503.7" r="1.4" fill="#2d2d2d"/>
<circle cx="661.2" cy="630.6" r="13" fill="none" stroke="#ececec" stroke-width="1.9"/>
<path d="M651.6,630.6 A9.6,9.6 0 0 0 670.8000000000001,630.6 Z" fill="#ececec"/>
<circle cx="778" cy="630.6" r="13" fill="none" stroke="#ececec" stroke-width="1.9"/>
<path d="M769,624.6 Q769,621.1 774,621.1 L781,621.1 Q784,621.1 784,624.6 L787,627.6 L787,633.6 L784,636.6 Q784,640.1 781,640.1 L774,640.1 Q769,640.1 769,636.6 Z" fill="#ececec"/>
<text transform="translate(662.4,515.6) rotate(90)" font-family="Liberation Sans" font-weight="bold" font-size="9.2" fill="#ececec" textLength="52" lengthAdjust="spacingAndGlyphs" >INTELLIGENT</text>
<text transform="translate(652.7,519.2) rotate(90)" font-family="Liberation Sans" font-weight="bold" font-size="9.2" fill="#ececec" textLength="44.8" lengthAdjust="spacingAndGlyphs" >DETECTION</text>
<text transform="translate(774.4,513.1) rotate(90)" font-family="Liberation Sans" font-weight="bold" font-size="9.6" fill="#ececec" textLength="57" lengthAdjust="spacingAndGlyphs" >PULSE REPAIR</text>
<text transform="translate(662.3,648.9) rotate(90)" font-family="Liberation Sans" font-weight="bold" font-size="9.2" fill="#ececec" textLength="50.8" lengthAdjust="spacingAndGlyphs" >WINTER AND</text>
<text transform="translate(653.8,658.6) rotate(90)" font-family="Liberation Sans" font-weight="bold" font-size="9.2" fill="#ececec" textLength="32.7" lengthAdjust="spacingAndGlyphs" >SUMMER</text>
<text transform="translate(778.6,653.7) rotate(90)" font-family="Liberation Sans" font-weight="bold" font-size="9.2" fill="#ececec" textLength="40" lengthAdjust="spacingAndGlyphs" >MULTIPLE</text>
<text transform="translate(768.9,648.9) rotate(90)" font-family="Liberation Sans" font-weight="bold" font-size="9.2" fill="#ececec" textLength="50.8" lengthAdjust="spacingAndGlyphs" >PROTECTION</text>
<text transform="translate(803.35,572.5) rotate(90)" font-family="Liberation Sans" font-weight="bold" font-size="23.9" fill="#f4f4f4" textLength="144.1" lengthAdjust="spacingAndGlyphs"  stroke="#f4f4f4" stroke-width="1.1" stroke-linejoin="round">UNIVERSAL</text>
<text transform="translate(802.85,741.5) rotate(90)" font-family="Liberation Sans" font-weight="bold" font-size="24" fill="#f4f4f4" textLength="71.9" lengthAdjust="spacingAndGlyphs"  stroke="#f4f4f4" stroke-width="1.1" stroke-linejoin="round">PULSE</text>
<text transform="translate(802.6,838.6) rotate(90)" font-family="Liberation Sans" font-weight="bold" font-size="23.8" fill="#f4f4f4" textLength="84.4" lengthAdjust="spacingAndGlyphs"  stroke="#f4f4f4" stroke-width="1.1" stroke-linejoin="round">REPAIR</text>
<text transform="translate(801.75,947) rotate(90)" font-family="Liberation Sans" font-weight="bold" font-size="23.3" fill="#f4f4f4" textLength="110.3" lengthAdjust="spacingAndGlyphs"  stroke="#f4f4f4" stroke-width="1.1" stroke-linejoin="round">CHARGER</text>
<text transform="translate(833.8,769) rotate(90)" font-family="Liberation Sans" font-weight="bold" font-size="34.9" fill="#f4f4f4" textLength="118.8" lengthAdjust="spacingAndGlyphs"  stroke="#f4f4f4" stroke-width="1.2" stroke-linejoin="round">12V10A</text>
<rect x="673.3" y="733.3" width="106.8" height="193.4" fill="none" stroke="#e6e6e6" stroke-width="5"/>
<g clip-path="url(#lcdc)"><rect x="675" y="736" width="104" height="190" fill="#474d4c"/>
<polygon points="670,811.8 785,876 785,930 670,930" fill="#06100e"/></g>
<g transform="translate(770.4,745.3) rotate(90)" fill="#52d8a8">
<polygon points="3.8,0.0 19.2,0.0 17.4,4.6 5.6,4.6"/>
<polygon points="23.0,3.8 23.0,21.5 18.4,19.2 18.4,5.6"/>
<polygon points="4.7,22.5 5.6,20.2 17.4,20.2 18.3,22.5 17.4,24.8 5.6,24.8"/>
<polygon points="0.0,23.5 4.6,25.8 4.6,39.4 0.0,41.2"/>
<polygon points="5.6,40.4 17.4,40.4 19.2,45.0 3.8,45.0"/>
</g>
<g transform="translate(770.4,777.6) rotate(90)" fill="#52d8a8">
<polygon points="3.8,0.0 19.2,0.0 17.4,4.6 5.6,4.6"/>
<polygon points="23.0,3.8 23.0,21.5 18.4,19.2 18.4,5.6"/>
<polygon points="23.0,23.5 23.0,41.2 18.4,39.4 18.4,25.8"/>
<polygon points="5.6,40.4 17.4,40.4 19.2,45.0 3.8,45.0"/>
<polygon points="0.0,23.5 4.6,25.8 4.6,39.4 0.0,41.2"/>
<polygon points="0.0,3.8 4.6,5.6 4.6,19.2 0.0,21.5"/>
<polygon points="4.7,22.5 5.6,20.2 17.4,20.2 18.3,22.5 17.4,24.8 5.6,24.8"/>
</g>
<rect x="726.8" y="803.5" width="5.8" height="5.8" fill="#4fd6a6"/>
<g transform="translate(770.4,812.4) rotate(90)" fill="#52d8a8">
<polygon points="3.8,0.0 19.2,0.0 17.4,4.6 5.6,4.6"/>
<polygon points="23.0,3.8 23.0,21.5 18.4,19.2 18.4,5.6"/>
<polygon points="23.0,23.5 23.0,41.2 18.4,39.4 18.4,25.8"/>
</g>
<text transform="translate(757.5,852) rotate(90)" font-family="Liberation Sans" font-weight="normal" font-size="12" fill="#4fd6a6" textLength="11" lengthAdjust="spacingAndGlyphs" >°C</text>
<circle cx="707.2" cy="783.9" r="5.2" fill="#4fd6a6"/>
<line x1="715.5" y1="783.9" x2="718.2" y2="783.9" stroke="#4fd6a6" stroke-width="1.6"/>
<line x1="713.1" y1="789.8" x2="715.0" y2="791.7" stroke="#4fd6a6" stroke-width="1.6"/>
<line x1="707.2" y1="792.2" x2="707.2" y2="794.9" stroke="#4fd6a6" stroke-width="1.6"/>
<line x1="701.3" y1="789.8" x2="699.4" y2="791.7" stroke="#4fd6a6" stroke-width="1.6"/>
<line x1="698.9" y1="783.9" x2="696.2" y2="783.9" stroke="#4fd6a6" stroke-width="1.6"/>
<line x1="701.3" y1="778.0" x2="699.4" y2="776.1" stroke="#4fd6a6" stroke-width="1.6"/>
<line x1="707.2" y1="775.6" x2="707.2" y2="772.9" stroke="#4fd6a6" stroke-width="1.6"/>
<line x1="713.1" y1="778.0" x2="715.0" y2="776.1" stroke="#4fd6a6" stroke-width="1.6"/>
<text transform="translate(685,771) rotate(90)" font-family="Liberation Sans" font-weight="normal" font-size="5.5" fill="#4fd6a6" textLength="27" lengthAdjust="spacingAndGlyphs" >Summer</text>
<rect x="684.3" y="886" width="64" height="27.6" fill="none" stroke="#3fd197" stroke-width="2.2"/>
<rect x="748.3" y="889.2" width="7.5" height="5.1" fill="#3fd197"/>
<rect x="748.3" y="903" width="7.5" height="7.3" fill="#3fd197"/>
<rect x="689.7" y="890" width="9" height="20.3" fill="#2fb07c"/>
<rect x="700.3" y="890" width="9" height="20.3" fill="#2fb07c"/>
<rect x="710.9" y="890" width="9" height="20.3" fill="#2fb07c"/>
<rect x="721.5" y="890" width="9" height="20.3" fill="#2fb07c"/>
<rect x="732.1" y="890" width="9" height="20.3" fill="#2fb07c"/>
<text transform="translate(760.5,888.5) rotate(90)" font-family="Liberation Sans" font-weight="normal" font-size="10" fill="#4fd6a6" textLength="8" lengthAdjust="spacingAndGlyphs" >Y</text>
<text transform="translate(760.5,902.3) rotate(90)" font-family="Liberation Sans" font-weight="normal" font-size="10" fill="#4fd6a6" textLength="8" lengthAdjust="spacingAndGlyphs" >Y</text>
<rect x="580.6" y="689.1" width="24.6" height="41.0" rx="3" fill="none" stroke="#d8d8d8" stroke-width="1.7"/>
<rect x="580.6" y="736.8" width="24.6" height="38.3" rx="3" fill="none" stroke="#d8d8d8" stroke-width="1.7"/>
<rect x="580.6" y="783.6" width="24.6" height="39.5" rx="3" fill="none" stroke="#d8d8d8" stroke-width="1.7"/>
<rect x="580.6" y="830.4" width="24.6" height="39.5" rx="3" fill="none" stroke="#d8d8d8" stroke-width="1.7"/>
<rect x="580.6" y="878.3" width="24.6" height="39.5" rx="3" fill="none" stroke="#d8d8d8" stroke-width="1.7"/>
<rect x="580.6" y="925.1" width="24.6" height="39.6" rx="3" fill="none" stroke="#d8d8d8" stroke-width="1.7"/>
<circle cx="614.8" cy="708.5" r="6.6" fill="#eaeaea"/>
<circle cx="614.8" cy="756.5" r="6.6" fill="#eaeaea"/>
<circle cx="614.8" cy="803.3" r="6.6" fill="#eaeaea"/>
<circle cx="614.8" cy="850.1" r="6.6" fill="#eaeaea"/>
<circle cx="614.8" cy="895.8" r="6.6" fill="#eaeaea"/>
<circle cx="614.8" cy="942.6" r="6.6" fill="#eaeaea"/>
<path d="M585.5,699 L595,699 L602,703.5 L602,716.5 L595,721 L585.5,721 Z" fill="#e4e4e4"/>
<rect x="595.5" y="704" width="4" height="12" fill="#2a2a2a"/><rect x="589" y="706" width="4" height="8" fill="#2a2a2a"/><circle cx="588.5" cy="702" r="1.3" fill="#2a2a2a"/><circle cx="588.5" cy="718" r="1.3" fill="#2a2a2a"/>
<rect x="584.5" y="743.5" width="17" height="25" rx="1.5" fill="#e4e4e4"/><rect x="599" y="746" width="3" height="4" fill="#111"/><rect x="599" y="762" width="3" height="4" fill="#111"/><path d="M594.5,750 L590,757 L594,756.5 L590.5,763" stroke="#222" stroke-width="1.3" fill="none"/>
<circle cx="596" cy="791.5" r="4.2" fill="none" stroke="#e4e4e4" stroke-width="2"/><circle cx="588" cy="815.5" r="4" fill="none" stroke="#e4e4e4" stroke-width="2"/><path d="M594,795 L599,801 L597,812 L591,812 L586,805 L589,797 Z" fill="#e4e4e4"/>
<path d="M582.8,839.5 L601.5,839.5 L601.5,843 L599,843 L599,858 L601.5,858 L601.5,861.8 L582.8,861.8 Z" fill="#e4e4e4"/><path d="M587,843.5 L597,843.5 L597,846.5 M590,843.5 L590,850 M587,852 L597,852 L597,855 M590,852 L590,858" stroke="#222" stroke-width="1.6" fill="none"/>
<path d="M584.3,903.3 L598.5,889.3" stroke="#e4e4e4" stroke-width="4.6" stroke-linecap="round"/><path d="M584.3,889.3 L596,901" stroke="#e4e4e4" stroke-width="2.8" stroke-linecap="round"/><circle cx="598" cy="903" r="3.4" fill="#e4e4e4"/><circle cx="600" cy="905" r="1.6" fill="#050505"/>
<path d="M586.4,953 L586.4,937.5 M583.2,941.5 L586.4,936.5 L589.6,941.5 M595.2,936.5 L595.2,952 M592,948 L595.2,953 L598.4,948" stroke="#e4e4e4" stroke-width="1.9" fill="none"/>
<text transform="translate(564.6,699.2) rotate(90)" font-family="Liberation Sans" font-weight="normal" font-size="12.8" fill="#e8e8e8" textLength="21.3" lengthAdjust="spacingAndGlyphs" >CAR</text>
<text transform="translate(564.6,744) rotate(90)" font-family="Liberation Sans" font-weight="normal" font-size="12.8" fill="#e8e8e8" textLength="24" lengthAdjust="spacingAndGlyphs" >AGM</text>
<text transform="translate(564.6,788.5) rotate(90)" font-family="Liberation Sans" font-weight="normal" font-size="12.8" fill="#e8e8e8" textLength="30.8" lengthAdjust="spacingAndGlyphs" >MOTO</text>
<text transform="translate(564.6,829.6) rotate(90)" font-family="Liberation Sans" font-weight="normal" font-size="12.8" fill="#e8e8e8" textLength="42.2" lengthAdjust="spacingAndGlyphs" >LiFePO4</text>
<text transform="translate(564.6,879.8) rotate(90)" font-family="Liberation Sans" font-weight="normal" font-size="12.8" fill="#e8e8e8" textLength="37.7" lengthAdjust="spacingAndGlyphs" >REPAIR</text>
<text transform="translate(564.6,922) rotate(90)" font-family="Liberation Sans" font-weight="normal" font-size="12.8" fill="#e8e8e8" textLength="46.9" lengthAdjust="spacingAndGlyphs" >REVERSE</text>
<circle cx="700.3" cy="1013.2" r="27.3" fill="#3f3f3f" stroke="#ededed" stroke-width="5"/>
<text transform="translate(694.8,994.8) rotate(90)" font-family="Liberation Sans" font-weight="bold" font-size="16" fill="#ececec" textLength="40.8" lengthAdjust="spacingAndGlyphs" >MOOE</text></g>
</svg>
<div class="lbl" style="left:18.5px;top:522.5px;">Kratzschutz /<br>Scratch Protection</div>
<div class="lbl" style="left:18.5px;top:905.5px;">Kristallklar /<br><span style="letter-spacing:1.73px">Crystal clear</span></div>
<div class="lbl" style="left:18.5px;top:1288.5px;">Passt perfekt /<br><span style="letter-spacing:1.87px">Case friendly</span></div>
<div class="lbl" style="left:1006px;top:522.5px;">Glänzend /<br><span style="letter-spacing:1.38px">Glossy Finish</span></div>
<div class="lbl" style="left:1006px;top:905.5px;"><span style="letter-spacing:2.6px">Ultra-Dünn /</span><br><span style="letter-spacing:2.3px">Ultra-Thin</span></div>
</body>
</html>
